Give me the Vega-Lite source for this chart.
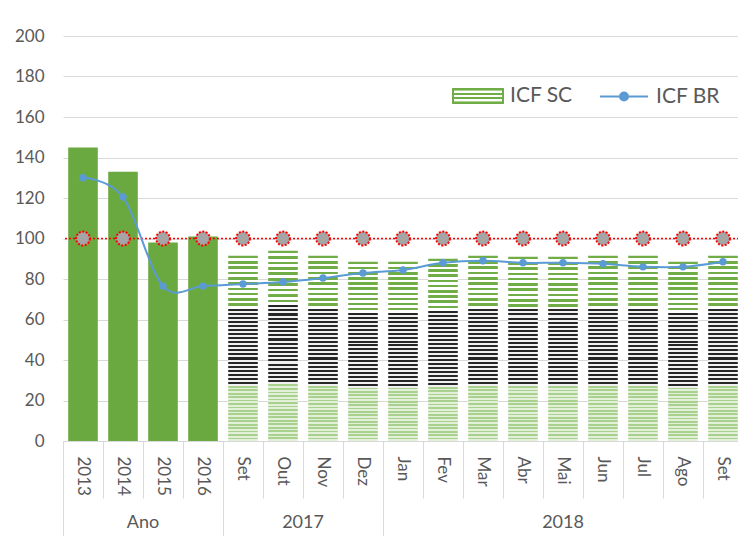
{
  "$schema": "https://vega.github.io/schema/vega-lite/v6.json",
  "autosize": "none",
  "width": 680,
  "height": 405,
  "padding": {"left": 63, "top": 36, "right": 0, "bottom": 95},
  "config": {
    "font": "Lato",
    "view": {"stroke": null},
    "axisY": {"grid": true, "gridColor": "#d9d9d9", "domain": false, "ticks": false, "labelPadding": 19, "labelFontSize": 17, "labelColor": "#595959", "title": null}
  },
  "data": {"values": [
    {"cat": "2013", "grupo": "Ano", "sc": 145, "br": 130, "meta": 100},
    {"cat": "2014", "grupo": "Ano", "sc": 133, "br": 120.5, "meta": 100},
    {"cat": "2015", "grupo": "Ano", "sc": 98, "br": 76.5, "meta": 100},
    {"cat": "2016", "grupo": "Ano", "sc": 101, "br": 76.5, "meta": 100},
    {"cat": "Set 2017", "grupo": "2017", "sc": 91.5, "br": 77.5, "meta": 100},
    {"cat": "Out", "grupo": "2017", "sc": 94, "br": 78.5, "meta": 100},
    {"cat": "Nov", "grupo": "2017", "sc": 91.5, "br": 80.5, "meta": 100},
    {"cat": "Dez", "grupo": "2017", "sc": 88.5, "br": 83, "meta": 100},
    {"cat": "Jan", "grupo": "2018", "sc": 88.5, "br": 84.5, "meta": 100},
    {"cat": "Fev", "grupo": "2018", "sc": 90, "br": 88, "meta": 100},
    {"cat": "Mar", "grupo": "2018", "sc": 91.5, "br": 89, "meta": 100},
    {"cat": "Abr", "grupo": "2018", "sc": 91, "br": 88, "meta": 100},
    {"cat": "Mai", "grupo": "2018", "sc": 91, "br": 88, "meta": 100},
    {"cat": "Jun", "grupo": "2018", "sc": 91.5, "br": 87.5, "meta": 100},
    {"cat": "Jul", "grupo": "2018", "sc": 91.5, "br": 86, "meta": 100},
    {"cat": "Ago", "grupo": "2018", "sc": 88.5, "br": 86, "meta": 100},
    {"cat": "Set 2018", "grupo": "2018", "sc": 91.5, "br": 88.5, "meta": 100}
  ]},
  "layer": [
    {
      "encoding": {
        "x": {
          "field": "cat", "type": "nominal", "title": null,
          "scale": {"domain": ["2013","2014","2015","2016","Set 2017","Out","Nov","Dez","Jan","Fev","Mar","Abr","Mai","Jun","Jul","Ago","Set 2018"], "paddingInner": 0, "paddingOuter": 0},
          "axis": {"orient": "bottom", "bandPosition": 0, "labelAngle": 90, "labelPadding": -42, "labelFontSize": 17, "labelColor": "#595959", "labelExpr": "split(datum.label, ' ')[0]", "tickSize": 57, "tickColor": "#d9d9d9", "tickWidth": 1, "domain": false, "grid": false, "title": null}
        }
      },
      "layer": [
        {
          "transform": [{"filter": "datum.grupo === 'Ano'"}],
          "mark": {"type": "bar", "width": {"band": 0.74}, "color": "#6aa840"},
          "encoding": {
            "y": {"field": "sc", "type": "quantitative", "scale": {"domain": [0, 200]},
              "axis": {"values": [0,20,40,60,80,100,120,140,160,180,200], "title": null}}
          }
        },
        {
          "transform": [{"filter": "datum.grupo !== 'Ano'"}],
          "mark": {"type": "bar", "width": {"band": 0.74},
            "fill": {"gradient": "linear", "x1": 0, "y1": 0, "x2": 0, "y2": 1, "stops": [
              {"offset":0,"color":"#70ad47"},
              {"offset":0.0143,"color":"#70ad47"},{"offset":0.0143,"color":"#ffffff"},
              {"offset":0.0286,"color":"#ffffff"},{"offset":0.0286,"color":"#70ad47"},
              {"offset":0.0429,"color":"#70ad47"},{"offset":0.0429,"color":"#ffffff"},
              {"offset":0.0572,"color":"#ffffff"},{"offset":0.0572,"color":"#70ad47"},
              {"offset":0.0715,"color":"#70ad47"},{"offset":0.0715,"color":"#ffffff"},
              {"offset":0.0858,"color":"#ffffff"},{"offset":0.0858,"color":"#70ad47"},
              {"offset":0.1001,"color":"#70ad47"},{"offset":0.1001,"color":"#ffffff"},
              {"offset":0.1144,"color":"#ffffff"},{"offset":0.1144,"color":"#70ad47"},
              {"offset":0.1287,"color":"#70ad47"},{"offset":0.1287,"color":"#ffffff"},
              {"offset":0.143,"color":"#ffffff"},{"offset":0.143,"color":"#70ad47"},
              {"offset":0.1573,"color":"#70ad47"},{"offset":0.1573,"color":"#ffffff"},
              {"offset":0.1716,"color":"#ffffff"},{"offset":0.1716,"color":"#70ad47"},
              {"offset":0.1859,"color":"#70ad47"},{"offset":0.1859,"color":"#ffffff"},
              {"offset":0.2002,"color":"#ffffff"},{"offset":0.2002,"color":"#70ad47"},
              {"offset":0.2145,"color":"#70ad47"},{"offset":0.2145,"color":"#ffffff"},
              {"offset":0.2288,"color":"#ffffff"},{"offset":0.2288,"color":"#70ad47"},
              {"offset":0.2431,"color":"#70ad47"},{"offset":0.2431,"color":"#ffffff"},
              {"offset":0.2574,"color":"#ffffff"},{"offset":0.2574,"color":"#70ad47"},
              {"offset":0.2717,"color":"#70ad47"},{"offset":0.2717,"color":"#ffffff"},
              {"offset":0.286,"color":"#ffffff"},{"offset":0.286,"color":"#262626"},
              {"offset":0.297,"color":"#262626"},{"offset":0.297,"color":"#f0f0f0"},
              {"offset":0.3079,"color":"#f0f0f0"},{"offset":0.3079,"color":"#262626"},
              {"offset":0.3189,"color":"#262626"},{"offset":0.3189,"color":"#f0f0f0"},
              {"offset":0.3299,"color":"#f0f0f0"},{"offset":0.3299,"color":"#262626"},
              {"offset":0.3409,"color":"#262626"},{"offset":0.3409,"color":"#f0f0f0"},
              {"offset":0.3518,"color":"#f0f0f0"},{"offset":0.3518,"color":"#262626"},
              {"offset":0.3628,"color":"#262626"},{"offset":0.3628,"color":"#f0f0f0"},
              {"offset":0.3738,"color":"#f0f0f0"},{"offset":0.3738,"color":"#262626"},
              {"offset":0.3847,"color":"#262626"},{"offset":0.3847,"color":"#f0f0f0"},
              {"offset":0.3957,"color":"#f0f0f0"},{"offset":0.3957,"color":"#262626"},
              {"offset":0.4067,"color":"#262626"},{"offset":0.4067,"color":"#f0f0f0"},
              {"offset":0.4176,"color":"#f0f0f0"},{"offset":0.4176,"color":"#262626"},
              {"offset":0.4286,"color":"#262626"},{"offset":0.4286,"color":"#f0f0f0"},
              {"offset":0.4396,"color":"#f0f0f0"},{"offset":0.4396,"color":"#262626"},
              {"offset":0.4505,"color":"#262626"},{"offset":0.4505,"color":"#f0f0f0"},
              {"offset":0.4615,"color":"#f0f0f0"},{"offset":0.4615,"color":"#262626"},
              {"offset":0.4725,"color":"#262626"},{"offset":0.4725,"color":"#f0f0f0"},
              {"offset":0.4835,"color":"#f0f0f0"},{"offset":0.4835,"color":"#262626"},
              {"offset":0.4944,"color":"#262626"},{"offset":0.4944,"color":"#f0f0f0"},
              {"offset":0.5054,"color":"#f0f0f0"},{"offset":0.5054,"color":"#262626"},
              {"offset":0.5164,"color":"#262626"},{"offset":0.5164,"color":"#f0f0f0"},
              {"offset":0.5273,"color":"#f0f0f0"},{"offset":0.5273,"color":"#262626"},
              {"offset":0.5383,"color":"#262626"},{"offset":0.5383,"color":"#f0f0f0"},
              {"offset":0.5493,"color":"#f0f0f0"},{"offset":0.5493,"color":"#262626"},
              {"offset":0.5602,"color":"#262626"},{"offset":0.5602,"color":"#f0f0f0"},
              {"offset":0.5712,"color":"#f0f0f0"},{"offset":0.5712,"color":"#262626"},
              {"offset":0.5822,"color":"#262626"},{"offset":0.5822,"color":"#f0f0f0"},
              {"offset":0.5931,"color":"#f0f0f0"},{"offset":0.5931,"color":"#262626"},
              {"offset":0.6041,"color":"#262626"},{"offset":0.6041,"color":"#f0f0f0"},
              {"offset":0.6151,"color":"#f0f0f0"},{"offset":0.6151,"color":"#262626"},
              {"offset":0.6261,"color":"#262626"},{"offset":0.6261,"color":"#f0f0f0"},
              {"offset":0.637,"color":"#f0f0f0"},{"offset":0.637,"color":"#262626"},
              {"offset":0.648,"color":"#262626"},{"offset":0.648,"color":"#f0f0f0"},
              {"offset":0.659,"color":"#f0f0f0"},{"offset":0.659,"color":"#262626"},
              {"offset":0.6699,"color":"#262626"},{"offset":0.6699,"color":"#f0f0f0"},
              {"offset":0.6809,"color":"#f0f0f0"},{"offset":0.6809,"color":"#262626"},
              {"offset":0.6919,"color":"#262626"},{"offset":0.6919,"color":"#f0f0f0"},
              {"offset":0.703,"color":"#f0f0f0"},{"offset":0.703,"color":"#a9d18e"},
              {"offset":0.7123,"color":"#a9d18e"},{"offset":0.7123,"color":"#e2f0d9"},
              {"offset":0.7216,"color":"#e2f0d9"},{"offset":0.7216,"color":"#a9d18e"},
              {"offset":0.7308,"color":"#a9d18e"},{"offset":0.7308,"color":"#e2f0d9"},
              {"offset":0.7401,"color":"#e2f0d9"},{"offset":0.7401,"color":"#a9d18e"},
              {"offset":0.7494,"color":"#a9d18e"},{"offset":0.7494,"color":"#e2f0d9"},
              {"offset":0.7587,"color":"#e2f0d9"},{"offset":0.7587,"color":"#a9d18e"},
              {"offset":0.768,"color":"#a9d18e"},{"offset":0.768,"color":"#e2f0d9"},
              {"offset":0.7772,"color":"#e2f0d9"},{"offset":0.7772,"color":"#a9d18e"},
              {"offset":0.7865,"color":"#a9d18e"},{"offset":0.7865,"color":"#e2f0d9"},
              {"offset":0.7958,"color":"#e2f0d9"},{"offset":0.7958,"color":"#a9d18e"},
              {"offset":0.8051,"color":"#a9d18e"},{"offset":0.8051,"color":"#e2f0d9"},
              {"offset":0.8144,"color":"#e2f0d9"},{"offset":0.8144,"color":"#a9d18e"},
              {"offset":0.8236,"color":"#a9d18e"},{"offset":0.8236,"color":"#e2f0d9"},
              {"offset":0.8329,"color":"#e2f0d9"},{"offset":0.8329,"color":"#a9d18e"},
              {"offset":0.8422,"color":"#a9d18e"},{"offset":0.8422,"color":"#e2f0d9"},
              {"offset":0.8515,"color":"#e2f0d9"},{"offset":0.8515,"color":"#a9d18e"},
              {"offset":0.8608,"color":"#a9d18e"},{"offset":0.8608,"color":"#e2f0d9"},
              {"offset":0.87,"color":"#e2f0d9"},{"offset":0.87,"color":"#a9d18e"},
              {"offset":0.8793,"color":"#a9d18e"},{"offset":0.8793,"color":"#e2f0d9"},
              {"offset":0.8886,"color":"#e2f0d9"},{"offset":0.8886,"color":"#a9d18e"},
              {"offset":0.8979,"color":"#a9d18e"},{"offset":0.8979,"color":"#e2f0d9"},
              {"offset":0.9072,"color":"#e2f0d9"},{"offset":0.9072,"color":"#a9d18e"},
              {"offset":0.9164,"color":"#a9d18e"},{"offset":0.9164,"color":"#e2f0d9"},
              {"offset":0.9257,"color":"#e2f0d9"},{"offset":0.9257,"color":"#a9d18e"},
              {"offset":0.935,"color":"#a9d18e"},{"offset":0.935,"color":"#e2f0d9"},
              {"offset":0.9443,"color":"#e2f0d9"},{"offset":0.9443,"color":"#a9d18e"},
              {"offset":0.9536,"color":"#a9d18e"},{"offset":0.9536,"color":"#e2f0d9"},
              {"offset":0.9628,"color":"#e2f0d9"},{"offset":0.9628,"color":"#a9d18e"},
              {"offset":0.9721,"color":"#a9d18e"},{"offset":0.9721,"color":"#e2f0d9"},
              {"offset":0.9814,"color":"#e2f0d9"},{"offset":0.9814,"color":"#a9d18e"},
              {"offset":0.9907,"color":"#a9d18e"},{"offset":0.9907,"color":"#e2f0d9"},
              {"offset":1,"color":"#e2f0d9"}
            ]}
          },
          "encoding": {
            "y": {"field": "sc", "type": "quantitative", "scale": {"domain": [0, 200]},
              "axis": {"values": [0,20,40,60,80,100,120,140,160,180,200], "title": null}}
          }
        }
      ]
    },
    {
      "mark": {"type": "rule", "color": "#ff0000", "strokeDash": [2, 2], "strokeWidth": 1.5},
      "encoding": {
        "y": {"field": "meta", "aggregate": "max", "type": "quantitative", "scale": {"domain": [0, 200]},
          "axis": {"values": [0,20,40,60,80,100,120,140,160,180,200], "title": null}}
      }
    },
    {
      "encoding": {
        "x": {"field": "cat", "type": "nominal", "title": null,
          "scale": {"domain": ["2013","2014","2015","2016","Set 2017","Out","Nov","Dez","Jan","Fev","Mar","Abr","Mai","Jun","Jul","Ago","Set 2018"], "paddingInner": 0, "paddingOuter": 0},
          "axis": null}
      },
      "layer": [
        {
          "mark": {"type": "point", "filled": true, "size": 190, "fill": "#a5a5a5", "stroke": "#ff0000", "strokeWidth": 2, "strokeDash": [2, 1.5], "opacity": 1},
          "encoding": {"y": {"field": "meta", "type": "quantitative", "scale": {"domain": [0, 200]},
            "axis": {"values": [0,20,40,60,80,100,120,140,160,180,200], "title": null}}}
        },
        {
          "mark": {"type": "line", "interpolate": "cardinal", "strokeWidth": 2},
          "encoding": {
            "y": {"field": "br", "type": "quantitative", "scale": {"domain": [0, 200]},
              "axis": {"values": [0,20,40,60,80,100,120,140,160,180,200], "title": null}},
            "color": {"datum": "ICF BR", "type": "nominal",
              "scale": {"domain": ["ICF SC", "ICF BR"], "range": ["#70ad47", "#5b9bd5"]},
              "legend": {
                "orient": "none", "legendX": 389, "legendY": 34, "direction": "horizontal", "title": null,
                "labelFontSize": 21, "labelColor": "#595959", "labelFont": "Lato",
                "symbolSize": 2500, "labelOffset": 6, "columnPadding": 23,
                "encode": {
                  "symbols": {
                    "update": {
                      "shape": {"signal": "datum.value === 'ICF SC' ? 'M-1,-0.28H1V0.28H-1Z' : 'M-0.96,0H0.96M-0.16,0A0.16,0.16,0,1,1,0.16,0A0.16,0.16,0,1,1,-0.16,0Z'"},
                      "fill": {"signal": "datum.value === 'ICF SC' ? {gradient: 'linear', x1: 0, y1: 0, x2: 0, y2: 1, stops: [{offset: 0, color: '#a9d18e'}, {offset: 0.14, color: '#a9d18e'}, {offset: 0.14, color: '#ffffff'}, {offset: 0.28, color: '#ffffff'}, {offset: 0.28, color: '#70ad47'}, {offset: 0.43, color: '#70ad47'}, {offset: 0.43, color: '#ffffff'}, {offset: 0.57, color: '#ffffff'}, {offset: 0.57, color: '#70ad47'}, {offset: 0.71, color: '#70ad47'}, {offset: 0.71, color: '#ffffff'}, {offset: 0.86, color: '#ffffff'}, {offset: 0.86, color: '#a9d18e'}, {offset: 1, color: '#a9d18e'}]} : '#5b9bd5'"},
                      "stroke": {"signal": "datum.value === 'ICF SC' ? 'transparent' : '#5b9bd5'"},
                      "strokeWidth": {"value": 2},
                      "opacity": {"value": 1},
                      "fillOpacity": {"value": 1}
                    }
                  }
                }
              }
            }
          }
        },
        {
          "mark": {"type": "point", "filled": true, "size": 55, "color": "#5b9bd5", "opacity": 1},
          "encoding": {"y": {"field": "br", "type": "quantitative", "scale": {"domain": [0, 200]},
            "axis": {"values": [0,20,40,60,80,100,120,140,160,180,200], "title": null}}}
        }
      ]
    },
    {
      "mark": {"type": "rule", "opacity": 0},
      "encoding": {
        "x": {"field": "cat", "type": "nominal", "title": null,
          "scale": {"domain": ["2013","2014","2015","2016","Set 2017","Out","Nov","Dez","Jan","Fev","Mar","Abr","Mai","Jun","Jul","Ago","Set 2018"], "paddingInner": 0, "paddingOuter": 0},
          "axis": {"orient": "bottom", "values": ["2013", "Set 2017", "Jan"], "bandPosition": 0, "tickSize": 95, "tickColor": "#d9d9d9", "tickWidth": 1, "labels": false, "domain": false, "grid": false, "title": null}}
      }
    },
    {
      "mark": {"type": "rule", "opacity": 0},
      "encoding": {
        "x": {"field": "cat", "type": "nominal", "title": null,
          "scale": {"domain": ["2013","2014","2015","2016","Set 2017","Out","Nov","Dez","Jan","Fev","Mar","Abr","Mai","Jun","Jul","Ago","Set 2018"], "paddingInner": 0, "paddingOuter": 0},
          "axis": {"orient": "bottom", "values": ["2015", "Nov"], "labelOffset": -20, "ticks": false, "domain": false, "grid": false, "title": null,
            "labelExpr": "datum.value === '2015' ? 'Ano' : '2017'", "labelAngle": 0, "labelAlign": "center", "labelBaseline": "top", "labelPadding": 72, "labelFontSize": 18, "labelColor": "#595959"}}
      }
    },
    {
      "mark": {"type": "rule", "opacity": 0},
      "encoding": {
        "x": {"field": "cat", "type": "nominal", "title": null,
          "scale": {"domain": ["2013","2014","2015","2016","Set 2017","Out","Nov","Dez","Jan","Fev","Mar","Abr","Mai","Jun","Jul","Ago","Set 2018"], "paddingInner": 0, "paddingOuter": 0},
          "axis": {"orient": "bottom", "values": ["Mai"], "ticks": false, "domain": false, "grid": false, "title": null,
            "labelExpr": "'2018'", "labelAngle": 0, "labelAlign": "center", "labelBaseline": "top", "labelPadding": 72, "labelFontSize": 18, "labelColor": "#595959"}}
      }
    }
  ],
  "resolve": {"axis": {"x": "independent"}}
}
